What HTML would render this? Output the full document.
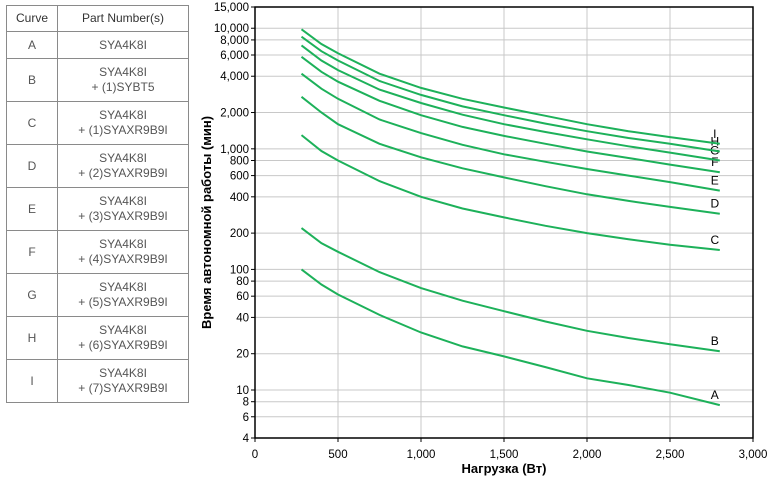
<!DOCTYPE html>
<html><head><meta charset="utf-8"><style>
body{margin:0;width:771px;height:480px;background:#fff;font-family:"Liberation Sans",Arial,sans-serif;overflow:hidden;position:relative}
table{position:absolute;left:6px;top:5px;border-collapse:collapse;font-size:12px;color:#555}
td,th{border:1px solid #8a8a8a;text-align:center;padding:0;line-height:15px}
th{height:25px;font-weight:normal;color:#333}
td.c{width:50px}td.p{width:130px}
tr.r1 td{height:26px}tr.r2 td{height:42px}
svg{position:absolute;left:0;top:0}
</style></head><body>
<table>
<tr><th>Curve</th><th>Part Number(s)</th></tr>
<tr class="r1"><td class="c">A</td><td class="p">SYA4K8I</td></tr>
<tr class="r2"><td class="c">B</td><td class="p">SYA4K8I<br>+ (1)SYBT5</td></tr>
<tr class="r2"><td class="c">C</td><td class="p">SYA4K8I<br>+ (1)SYAXR9B9I</td></tr>
<tr class="r2"><td class="c">D</td><td class="p">SYA4K8I<br>+ (2)SYAXR9B9I</td></tr>
<tr class="r2"><td class="c">E</td><td class="p">SYA4K8I<br>+ (3)SYAXR9B9I</td></tr>
<tr class="r2"><td class="c">F</td><td class="p">SYA4K8I<br>+ (4)SYAXR9B9I</td></tr>
<tr class="r2"><td class="c">G</td><td class="p">SYA4K8I<br>+ (5)SYAXR9B9I</td></tr>
<tr class="r2"><td class="c">H</td><td class="p">SYA4K8I<br>+ (6)SYAXR9B9I</td></tr>
<tr class="r2"><td class="c">I</td><td class="p">SYA4K8I<br>+ (7)SYAXR9B9I</td></tr>
</table>
<svg id="chart" width="771" height="480"></svg>
<script>
const loads=[280,400,500,750,1000,1250,1500,1750,2000,2250,2500,2800];
const curveNames=["A","B","C","D","E","F","G","H","I"];
const serA=[100,75,62,42,30,23,19,15.5,12.5,11,9.5,7.5];
const serB=[220,165,140,95,70,55,45,37,31,27,24,21];
const serC=[1300,960,800,540,400,320,270,230,200,178,160,145];
const serD=[2700,2000,1600,1100,850,690,580,490,420,370,330,290];
const serE=[4200,3150,2600,1750,1350,1080,900,780,680,600,530,450];
const serF=[5800,4350,3600,2500,1900,1520,1280,1100,950,840,740,640];
const serG=[7200,5400,4500,3100,2400,1920,1600,1380,1200,1050,930,800];
const serH=[8500,6450,5400,3650,2800,2250,1900,1620,1400,1230,1100,950];
const serI=[9800,7400,6200,4200,3200,2600,2200,1880,1600,1400,1250,1100];
const yTicks=[4,6,8,10,20,40,60,80,100,200,400,600,800,1000,2000,4000,6000,8000,10000,15000];
const xTicks=[0,500,1000,1500,2000,2500,3000];
const series=[serA,serB,serC,serD,serE,serF,serG,serH,serI];
const X0=255,X1=753,Y0=438,Y1=7;
const xs=v=>X0+(v/3000)*(X1-X0);
const ys=v=>Y0-(Math.log10(v)-Math.log10(4))/(Math.log10(15000)-Math.log10(4))*(Y0-Y1);
const NS="http://www.w3.org/2000/svg";
const svg=document.getElementById('chart');
function mk(t,a,txt){const e=document.createElementNS(NS,t);for(const k in a)e.setAttribute(k,a[k]);if(txt!=null)e.textContent=txt;svg.appendChild(e);return e;}
const fmt=v=>v.toLocaleString('en-US');
yTicks.forEach(t=>{const y=ys(t);
 if(t<15000&&t>4){const g=mk('line',{x1:X0,x2:X1,y1:y,y2:y,stroke:'#c8c8c8','stroke-width':1});
 
 }
 const tk=mk('line',{x1:X0-4,x2:X0,y1:y,y2:y,stroke:'#000'});
 
 
 const l=mk('text',{x:X0-6,y:y+4,'text-anchor':'end','font-size':11.5,fill:'#000'},fmt(t));
 
 });
xTicks.forEach(t=>{const x=xs(t);
 if(t>0&&t<3000){const g=mk('line',{x1:x,x2:x,y1:Y1,y2:Y0,stroke:'#c8c8c8','stroke-width':1});
 
 }
 const tk=mk('line',{x1:x,x2:x,y1:Y0,y2:Y0+4,stroke:'#000'});
 
 
 const l=mk('text',{x:x,y:Y0+20,'text-anchor':'middle','font-size':11.5,fill:'#000'},fmt(t));
 
 });
const box=mk('rect',{x:X0,y:Y1,width:X1-X0,height:Y0-Y1,fill:'none',stroke:'#000','stroke-width':1.5});


series.forEach((s,i)=>{
 const pts=s.map((v,j)=>xs(loads[j]).toFixed(1)+','+ys(v).toFixed(1)).join(' ');
 const p=mk('polyline',{points:pts,fill:'none',stroke:'#1db15a','stroke-width':2});
 
 
 const last=s[s.length-1];
 const l=mk('text',{x:xs(loads[loads.length-1])-5,y:ys(last)-6,'text-anchor':'middle','font-size':12,fill:'#000'},curveNames[i]);
 
 });
const xt=mk('text',{x:(X0+X1)/2,y:473,'text-anchor':'middle','font-size':13,'font-weight':'bold',fill:'#000'},'Нагрузка (Вт)');


const yt=mk('text',{x:0,y:0,'text-anchor':'middle','font-size':13,'font-weight':'bold',fill:'#000',transform:'translate(211,'+((Y0+Y1)/2)+') rotate(-90)'},'Время автономной работы (мин)');


</script>
</body></html>
